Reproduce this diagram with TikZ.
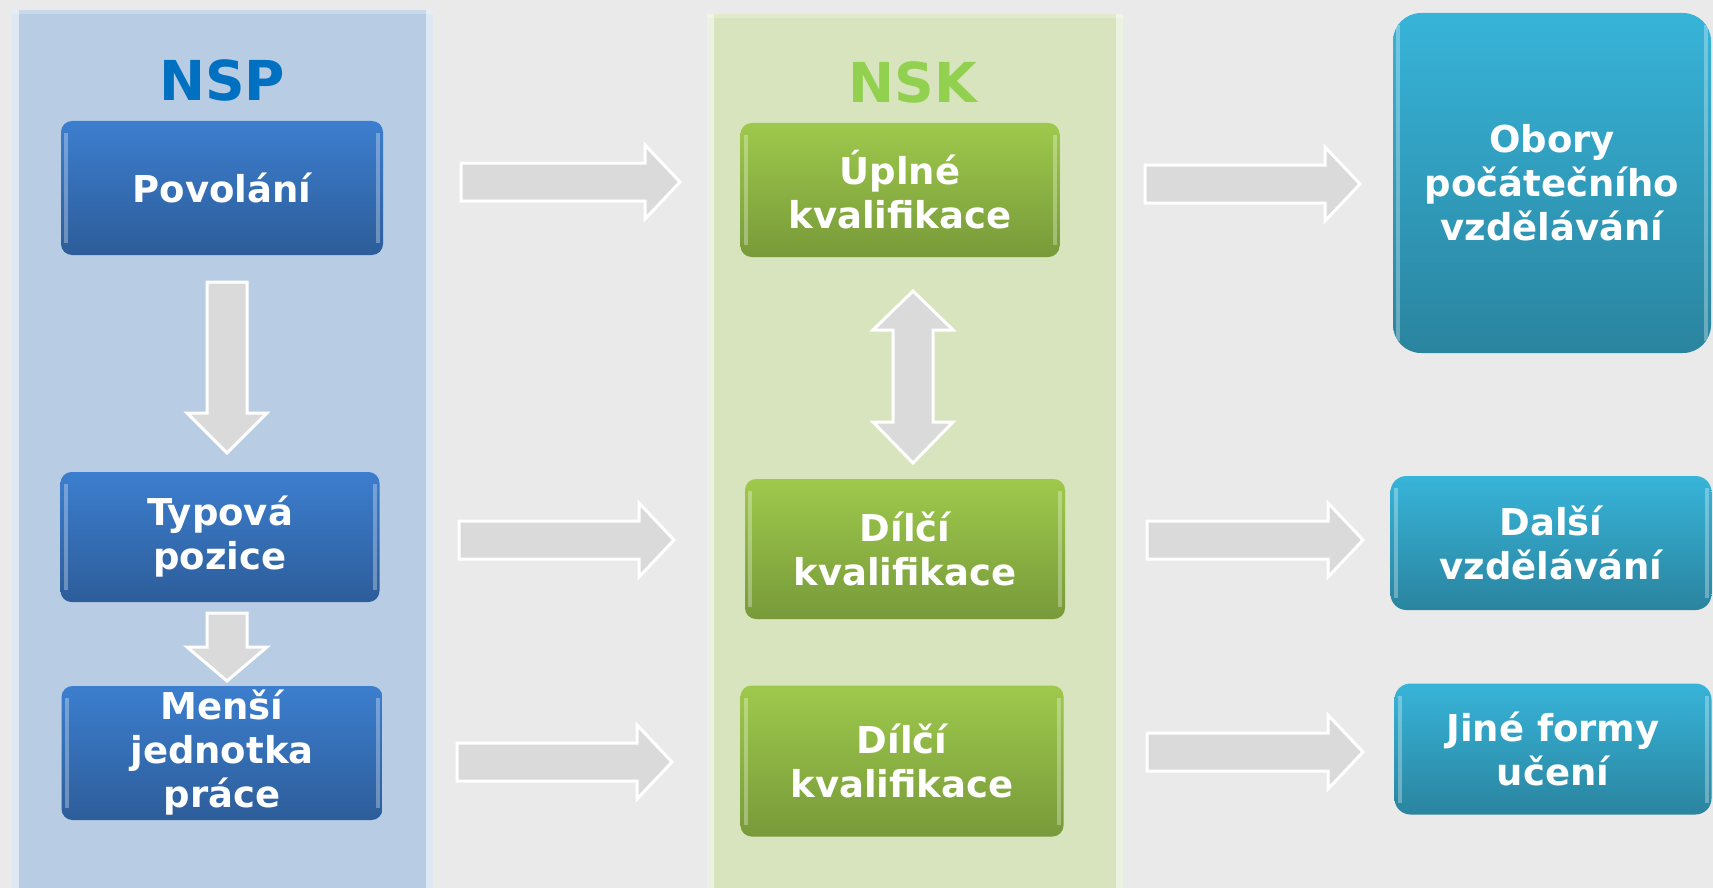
\documentclass[tikz,border=0pt]{standalone}
\usepackage{fontspec}
\setmainfont{DejaVu Sans}
\definecolor{bg}{HTML}{EAEAEA}
\definecolor{bluepanel}{HTML}{B8CCE4}
\definecolor{greenpanel}{HTML}{D7E4BD}
\definecolor{bluetop}{HTML}{3C7ECE}
\definecolor{bluebot}{HTML}{2D5D9A}
\definecolor{greentop}{HTML}{9EC94C}
\definecolor{greenbot}{HTML}{789A3A}
\definecolor{tealtop}{HTML}{37B4D9}
\definecolor{tealbot}{HTML}{2A849F}
\definecolor{nspblue}{HTML}{0070C0}
\definecolor{nskgreen}{HTML}{92D050}
\definecolor{arrowgray}{HTML}{DADADA}
\tikzset{
  basebox/.style={rounded corners=11pt, text=white, align=center, inner sep=0pt,
    font=\bfseries\fontsize{37}{44}\selectfont,
    path picture={
      \fill[white, opacity=0.3, sharp corners] ([xshift=3pt,yshift=-12pt]path picture bounding box.north west) rectangle ([xshift=7pt,yshift=12pt]path picture bounding box.south west);
      \fill[white, opacity=0.3, sharp corners] ([xshift=-7pt,yshift=-12pt]path picture bounding box.north east) rectangle ([xshift=-3pt,yshift=12pt]path picture bounding box.south east);
    }},
  bbox/.style={basebox, top color=bluetop, bottom color=bluebot},
  gbox/.style={basebox, top color=greentop, bottom color=greenbot},
  tbox/.style={basebox, top color=tealtop, bottom color=tealbot},
  arrowfill/.style={fill=arrowgray, draw=white, line width=3pt, line join=miter},
  paneltitle/.style={font=\bfseries\fontsize{55}{60}\selectfont, inner sep=0pt}
}
\newcommand\hArrow[3]{%
  \filldraw[arrowfill] (#1,{-(#3)+19}) -- ({#2-35},{-(#3)+19}) -- ({#2-35},{-(#3)+37}) -- (#2,{-(#3)})
    -- ({#2-35},{-(#3)-37}) -- ({#2-35},{-(#3)-19}) -- (#1,{-(#3)-19}) -- cycle;}
\newcommand\vArrow[4]{% x, ytop, ytip, headlen
  \filldraw[arrowfill] ({#1-20},-#2) -- ({#1+20},-#2) -- ({#1+20},{-(#3)+(#4)}) -- ({#1+40},{-(#3)+(#4)})
    -- (#1,-#3) -- ({#1-40},{-(#3)+(#4)}) -- ({#1-20},{-(#3)+(#4)}) -- cycle;}
\begin{document}
\begin{tikzpicture}[x=1pt,y=1pt]
  \fill[bg] (0,0) rectangle (1713,-888);
  \useasboundingbox (0,0) rectangle (1713,-888);
  % panels
  \fill[bluepanel] (12,-10) rectangle (433,-888);
  \fill[white, opacity=0.55] (12,-10) rectangle (19,-888);
  \fill[white, opacity=0.55] (426,-10) rectangle (433,-888);
  \fill[white, opacity=0.25] (12,-10) rectangle (433,-14);
  \fill[greenpanel] (707,-14) rectangle (1123,-888);
  \fill[white, opacity=0.55] (707,-14) rectangle (714,-888);
  \fill[white, opacity=0.55] (1116,-14) rectangle (1123,-888);
  \fill[white, opacity=0.25] (707,-14) rectangle (1123,-18);
  % titles
  \node[paneltitle, text=nspblue] (nsp) at (222,-80) {NSP};
  \node[paneltitle, text=nskgreen] (nsk) at (913,-82) {NSK};
  % blue boxes
  \node[bbox, minimum width=322pt, minimum height=134pt] (pov) at (222,-188) {Povolání};
  \node[bbox, minimum width=319pt, minimum height=130pt] (typ) at (220,-537) {Typová\\pozice};
  \node[bbox, minimum width=321pt, minimum height=134pt] (men) at (222,-753) {Menší\\jednotka\\práce};
  % green boxes
  \node[gbox, minimum width=319pt, minimum height=134pt] (upl) at (900,-190) {Úplné\\kvalifikace};
  \node[gbox, minimum width=320pt, minimum height=140pt] (dil1) at (905,-549) {Dílčí\\kvalifikace};
  \node[gbox, minimum width=323pt, minimum height=151pt] (dil2) at (902,-761) {Dílčí\\kvalifikace};
  % teal boxes
  \node[tbox, rounded corners=28pt, minimum width=318pt, minimum height=340pt] (obo) at (1552,-183) {Obory\\počátečního\\vzdělávání};
  \node[tbox, rounded corners=16pt, minimum width=321pt, minimum height=134pt] (dal) at (1551,-543) {Další\\vzdělávání};
  \node[tbox, rounded corners=16pt, minimum width=317pt, minimum height=131pt] (jin) at (1553,-749) {Jiné formy\\učení};
  % vertical arrows
  \vArrow{227}{282}{453}{40}
  \vArrow{227}{613}{681}{34}
  % double arrow
  \filldraw[arrowfill] (893,-330) -- (873,-330) -- (913,-291) -- (953,-330) -- (933,-330) -- (933,-422)
    -- (953,-422) -- (913,-463) -- (873,-422) -- (893,-422) -- cycle;
  % horizontal arrows
  \hArrow{461}{680}{182}
  \hArrow{459}{674}{540}
  \hArrow{457}{672}{762}
  \hArrow{1145}{1360}{184}
  \hArrow{1147}{1363}{540}
  \hArrow{1147}{1363}{752}
\end{tikzpicture}
\end{document}
